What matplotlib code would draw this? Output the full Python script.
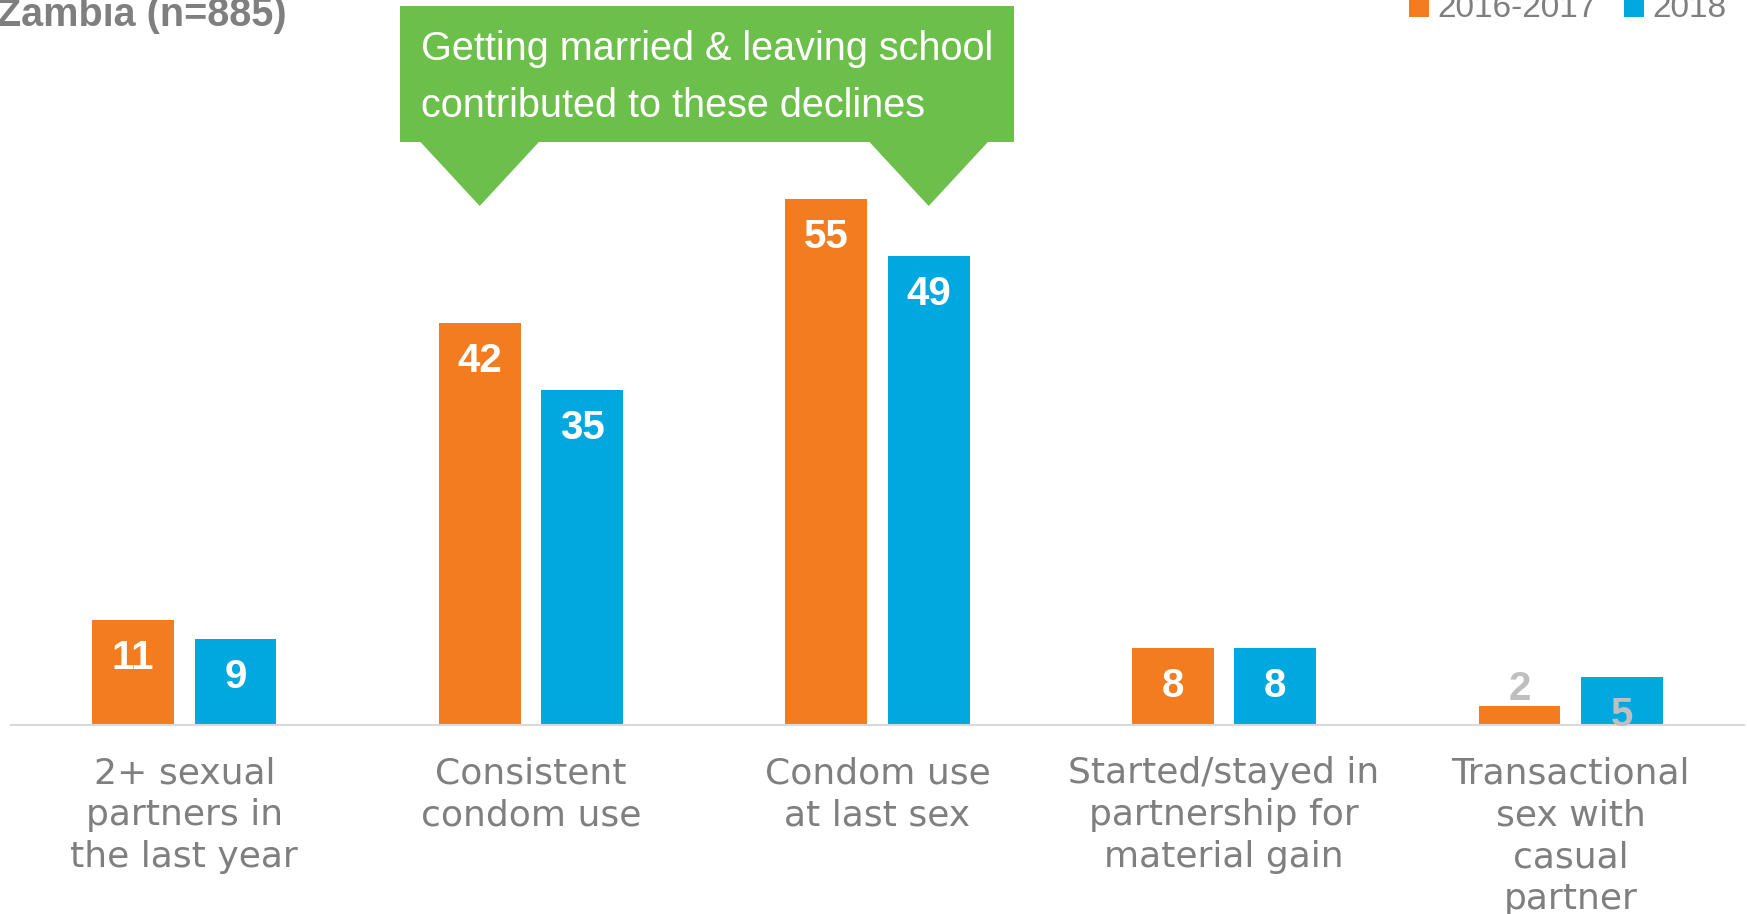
import matplotlib
matplotlib.use('Agg')
from matplotlib import pyplot as plt
from matplotlib.patches import Polygon, Rectangle
import numpy as np

# data
categories = ['2+ sexual\npartners in\nthe last year',
              'Consistent\ncondom use',
              'Condom use\nat last sex',
              'Started/stayed in\npartnership for\nmaterial gain',
              'Transactional\nsex with\ncasual\npartner']
series = ['2016-2017', '2018']
values_2016 = [11, 42, 55, 8, 2]
values_2018 = [9, 35, 49, 8, 5]
title = 'Zambia (n=885)'
callout = 'Getting married & leaving school\ncontributed to these declines'

ORANGE = '#f47c20'
BLUE = '#00a8e0'
GREEN = '#6cbf4b'
GREY = '#7f7f7f'
LIGHT = '#bfbfbf'

W, H = 1747, 914
fig = plt.figure(figsize=(W / 100, H / 100), dpi=100)
base_px = 725
px_per_unit = 9.57
ax = fig.add_axes([11 / W, (H - base_px) / H, 1733 / W, base_px / H])

x = np.arange(len(categories))
bw = 0.2355
off = 0.1477
b1 = ax.bar(x - off, values_2016, bw, color=ORANGE, label=series[0])
b2 = ax.bar(x + off, values_2018, bw, color=BLUE, label=series[1])

ax.set_xlim(-0.5, 4.5)
ax.set_ylim(0, base_px / px_per_unit)
for s in ['top', 'right', 'left']:
    ax.spines[s].set_visible(False)
ax.spines['bottom'].set_color('#d9d9d9')
ax.spines['bottom'].set_linewidth(1.5)
ax.set_xticks([])
ax.set_yticks([])

# value labels
for bars in (b1, b2):
    for rect in bars:
        v = rect.get_height()
        cx = rect.get_x() + rect.get_width() / 2
        if v < 4:
            dy = 17
        else:
            dy = -38
        col = 'white' if v >= 8 else LIGHT
        ax.annotate(f'{v:g}', (cx, v), xytext=(0, dy), textcoords='offset pixels',
                    ha='center', va='center', fontsize=29, fontweight='bold',
                    color=col, family='Liberation Sans')

# category labels
for i, lab in enumerate(categories):
    ax.annotate(lab, (i, 0), xytext=(0, -31), textcoords='offset pixels',
                ha='center', va='top', multialignment='center',
                fontsize=26, color=GREY, family='DejaVu Sans',
                linespacing=1.3, annotation_clip=False)

# callout box with two pointers
def ypx(p):
    return (base_px - p) / px_per_unit

bx0, bx1 = 0.622, 2.394
btop, bbot = ypx(6), ypx(141.7)
half = 0.173
tip = ypx(206)
ax.add_patch(Rectangle((bx0, bbot), bx1 - bx0, btop - bbot, color=GREEN,
                       clip_on=False, lw=0))
for ax_x in (1 - off, 2 + off):
    ax.add_patch(Polygon([[ax_x - half, bbot + 0.05], [ax_x + half, bbot + 0.05],
                          [ax_x, tip]], closed=True, color=GREEN, lw=0,
                         clip_on=False))
ax.text(bx0 + 0.06, ypx(30), callout, ha='left', va='top',
        fontsize=28.5, color='white', family='Liberation Sans',
        linespacing=1.65)

# title, cut at the top edge
fig.text(287 / W, 1 - 26 / H, title, ha='right', va='baseline',
         fontsize=28.5, fontweight='bold', color=GREY, family='Liberation Sans')

# legend, also cut at the top edge
for left, lab, col in zip([1409, 1624], series, [ORANGE, BLUE]):
    fig.patches.append(Rectangle((left / W, 1 - 17 / H), 20 / W, 22 / H,
                                 transform=fig.transFigure, color=col, lw=0))
    fig.text((left + 28) / W, 1 - 17 / H, lab, ha='left', va='baseline',
             fontsize=24, color=GREY, family='Liberation Sans')

fig.savefig('out.png', dpi=100)
